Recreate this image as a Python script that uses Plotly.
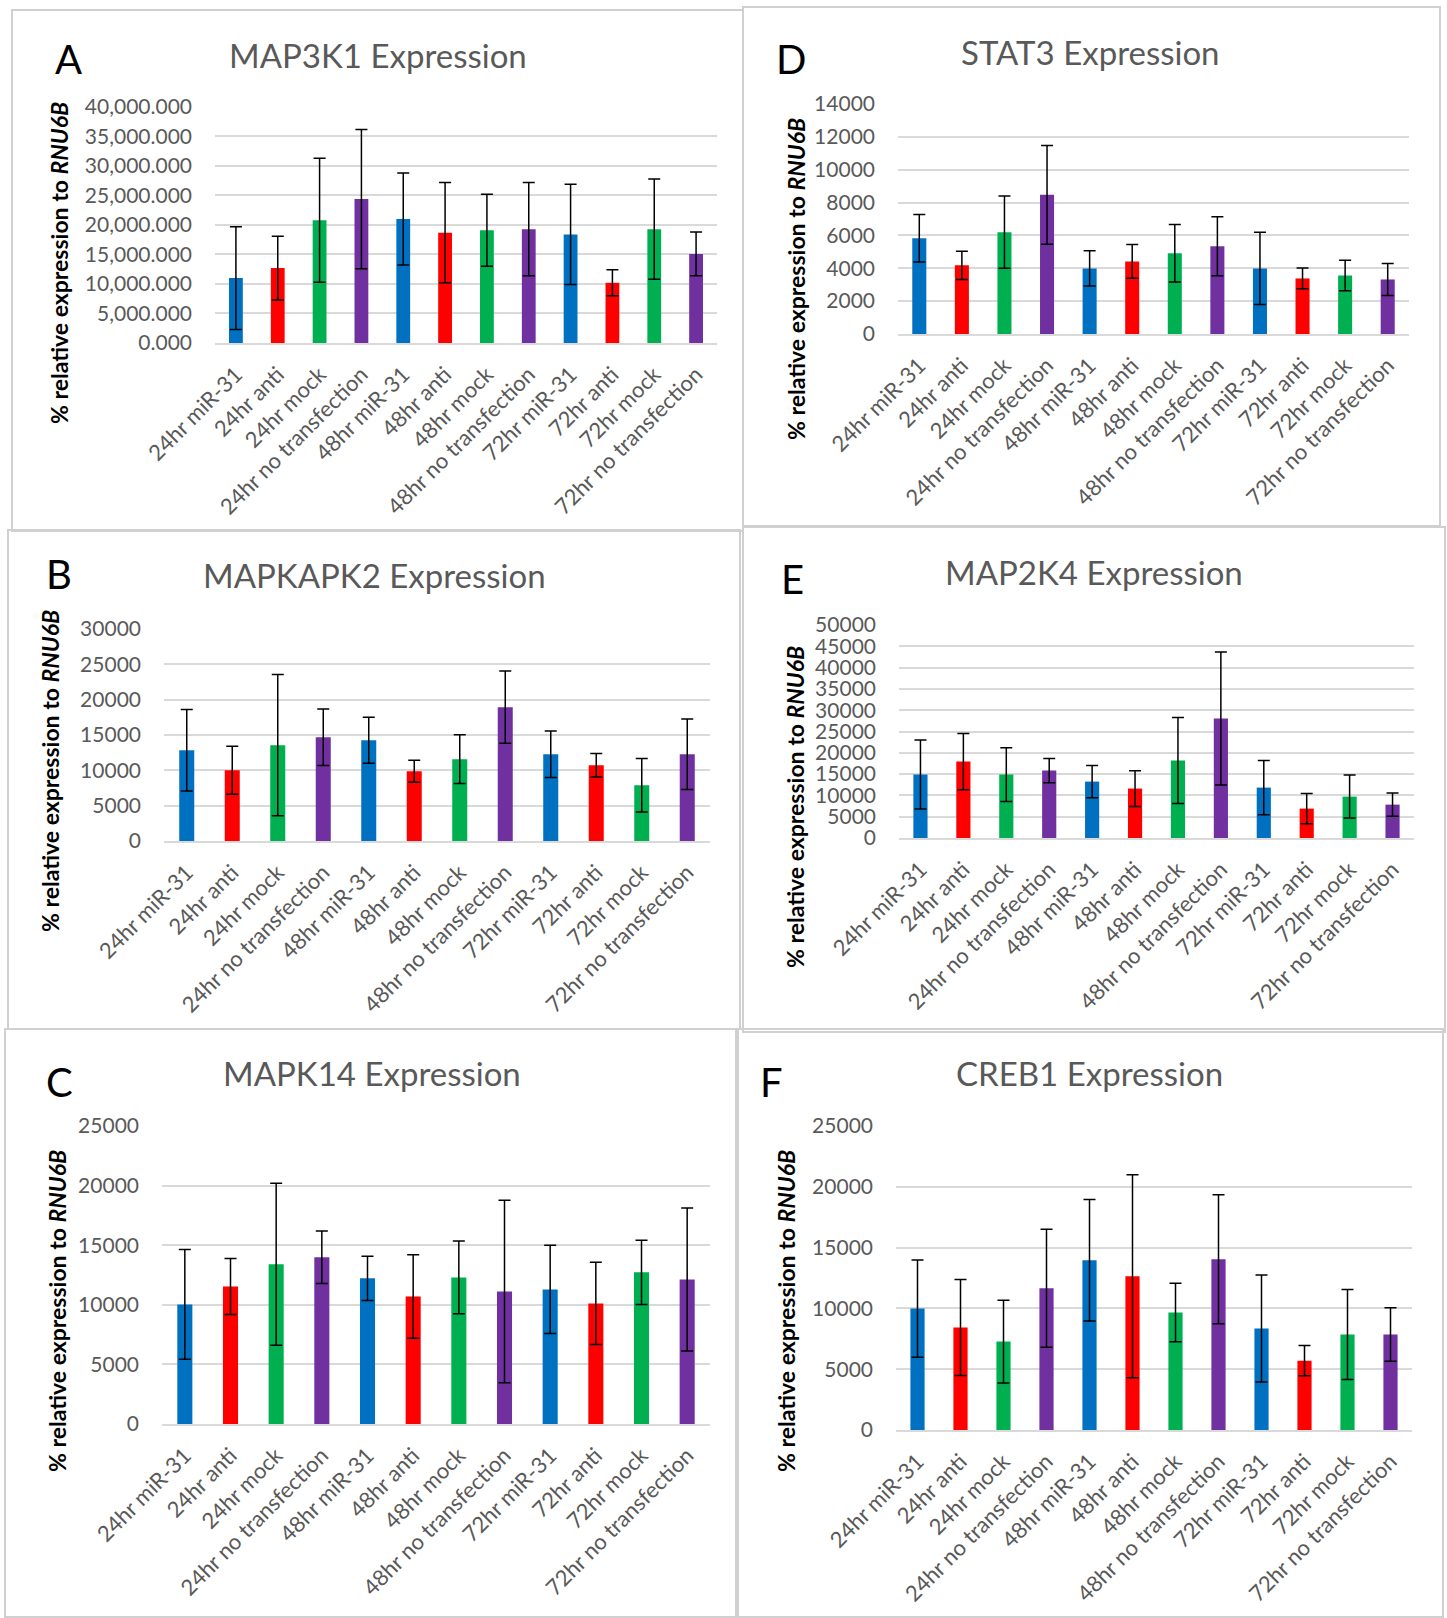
import plotly.graph_objects as go

W, H = 1447, 1618

categories = ["24hr miR-31", "24hr anti", "24hr mock", "24hr no transfection",
              "48hr miR-31", "48hr anti", "48hr mock", "48hr no transfection",
              "72hr miR-31", "72hr anti", "72hr mock", "72hr no transfection"]

map3k1 = [11000, 12700, 20800, 24400, 21000, 18700, 19100, 19300, 18400, 10200, 19300, 15100]
map3k1_err = [8700, 5400, 10500, 11800, 7800, 8500, 6100, 7900, 8500, 2200, 8500, 3700]

stat3 = [5830, 4180, 6200, 8470, 3990, 4420, 4910, 5340, 3990, 3380, 3560, 3320]
stat3_err = [1450, 860, 2200, 3000, 1070, 1030, 1750, 1800, 2200, 630, 930, 970]

mapkapk2 = [12850, 10010, 13560, 14690, 14270, 9870, 11570, 18940, 12280, 10720, 7890, 12280]
mapkapk2_err = [5760, 3400, 10000, 4000, 3250, 1550, 3450, 5100, 3300, 1680, 3780, 5000]

map2k4 = [14890, 17950, 14890, 15830, 13240, 11600, 18180, 28060, 11830, 6900, 9720, 7840]
map2k4_err = [8100, 6600, 6300, 2850, 3800, 4200, 10100, 15600, 6350, 3550, 5050, 2750]

mapk14 = [10030, 11540, 13400, 13990, 12220, 10700, 12300, 11120, 11290, 10110, 12720, 12130]
mapk14_err = [4600, 2350, 6800, 2200, 1850, 3500, 3050, 7650, 3700, 3450, 2700, 6000]

creb1 = [9990, 8430, 7270, 11650, 13960, 12640, 9660, 14040, 8340, 5700, 7850, 7850]
creb1_err = [4000, 3950, 3400, 4850, 5000, 8350, 2400, 5300, 4400, 1240, 3700, 2200]

bar_colors = ["#0070C0", "#FF0000", "#00B050", "#7030A0"] * 3

FONT = "Lato"
TICK_COLOR = "#595959"
GRID = "#D9D9D9"

panels = [
    dict(letter="A", title="MAP3K1 Expression", y=map3k1, e=map3k1_err, ymax=40000, dtick=5000, fmt=",.3f",
         box=(215, 717, 107, 343), tpos=(378, 55), lpos=(68, 59), ypos=(59, 263), border=(12, 743, 10, 531)),
    dict(letter="D", title="STAT3 Expression", y=stat3, e=stat3_err, ymax=14000, dtick=2000, fmt="d",
         box=(898, 1409, 104, 334), tpos=(1090, 52), lpos=(791, 59), ypos=(796, 279), border=(743, 1440, 7, 526)),
    dict(letter="B", title="MAPKAPK2 Expression", y=mapkapk2, e=mapkapk2_err, ymax=30000, dtick=5000, fmt="d",
         box=(164, 710, 629, 841), tpos=(374, 575), lpos=(59, 574), ypos=(50, 771), border=(8, 740, 530, 1029)),
    dict(letter="E", title="MAP2K4 Expression", y=map2k4, e=map2k4_err, ymax=50000, dtick=5000, fmt="d",
         box=(899, 1414, 625, 838), tpos=(1094, 572), lpos=(792, 579), ypos=(795, 807), border=(743, 1445, 527, 1032)),
    dict(letter="C", title="MAPK14 Expression", y=mapk14, e=mapk14_err, ymax=25000, dtick=5000, fmt="d",
         box=(162, 710, 1126, 1424), tpos=(372, 1073), lpos=(59, 1082), ypos=(57, 1311), border=(5, 738, 1029, 1617)),
    dict(letter="F", title="CREB1 Expression", y=creb1, e=creb1_err, ymax=25000, dtick=5000, fmt="d",
         box=(896, 1412, 1126, 1430), tpos=(1089, 1073), lpos=(772, 1082), ypos=(786, 1311), border=(736, 1443, 1029, 1617)),
]

fig = go.Figure()
layout = dict(width=W, height=H, margin=dict(l=0, r=0, t=0, b=0, autoexpand=False),
              paper_bgcolor="white", plot_bgcolor="white", showlegend=False,
              annotations=[], shapes=[])


def px(x):
    return x / W


def py(y):
    return 1 - y / H


for i, p in enumerate(panels):
    n = "" if i == 0 else str(i + 1)
    xa, ya = "x" + n, "y" + n
    l, r, t, b = p["box"]
    top_extra = p["ymax"] * 0.002
    fig.add_trace(go.Bar(
        x=categories, y=p["y"], xaxis=xa, yaxis=ya,
        marker=dict(color=bar_colors, line=dict(width=0)),
        width=0.33,
        error_y=dict(type="data", array=p["e"], visible=True, color="black", thickness=1.5, width=6),
    ))
    layout["xaxis" + n] = dict(
        domain=[px(l), px(r)], anchor=ya, type="category", automargin=False,
        tickangle=-45, tickfont=dict(family=FONT, size=22, color=TICK_COLOR),
        showgrid=False, showline=True, linecolor=GRID, linewidth=2,
        ticks="", ticklabelstandoff=8, fixedrange=True,
    )
    layout["yaxis" + n] = dict(
        domain=[py(b), py(t) + top_extra / p["ymax"] * (b - t) / H], anchor=xa, automargin=False,
        range=[0, p["ymax"] + top_extra], dtick=p["dtick"], tick0=0, tickformat=p["fmt"],
        tickfont=dict(family=FONT, size=21, color=TICK_COLOR),
        showgrid=True, gridcolor=GRID, gridwidth=2, zeroline=False, showline=False,
        ticks="", ticklabelstandoff=22, fixedrange=True,
    )
    layout["annotations"] += [
        dict(text=p["title"], x=px(p["tpos"][0]), y=py(p["tpos"][1]), xref="paper", yref="paper",
             showarrow=False, xanchor="center", yanchor="middle",
             font=dict(family=FONT, size=33, color=TICK_COLOR)),
        dict(text=p["letter"], x=px(p["lpos"][0]), y=py(p["lpos"][1]), xref="paper", yref="paper",
             showarrow=False, xanchor="center", yanchor="middle",
             font=dict(family=FONT, size=40, color="black")),
        dict(text="<b>% relative expression to <i>RNU6B</i></b>", x=px(p["ypos"][0]), y=py(p["ypos"][1]),
             xref="paper", yref="paper", showarrow=False, textangle=-90,
             xanchor="center", yanchor="middle",
             font=dict(family=FONT, size=23, color="black")),
    ]
    bl, br, bt, bb = p["border"]
    layout["shapes"].append(dict(type="rect", xref="paper", yref="paper",
                                 x0=px(bl), x1=px(br), y0=py(bb), y1=py(bt),
                                 line=dict(color="#D0D0D0", width=2), fillcolor="rgba(0,0,0,0)", layer="below"))

fig.update_layout(**layout)
fig.write_html("out.html")
